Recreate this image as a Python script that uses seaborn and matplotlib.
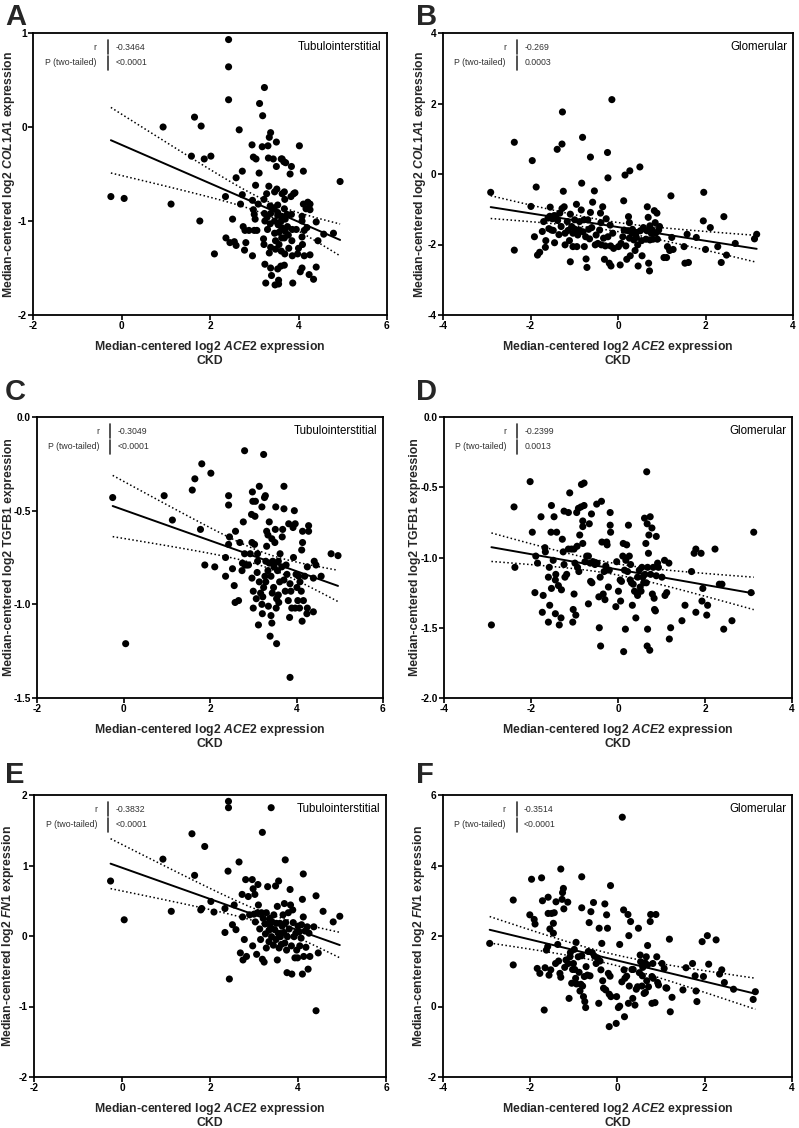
import numpy as np
import pandas as pd
import matplotlib
matplotlib.use("Agg")
import matplotlib.pyplot as plt
import seaborn as sns

# ---- data: (ACE2, target) pairs per panel ----
A_points = [(-0.24, -0.74), (0.06, -0.76), (0.94, 0.0), (1.12, -0.82), (1.65, 0.105), (1.80, 0.01),
            (1.58, -0.31), (1.87, -0.34), (2.02, -0.31), (1.77, -1.0), (2.10, -1.35), (2.42, 0.93),
            (2.42, 0.64), (2.42, 0.29), (2.35, -0.74), (2.36, -1.18), (2.45, -1.23), (2.51, -0.98),
            (2.55, -1.22), (2.59, -1.26), (2.59, -0.54), (2.66, -0.03), (2.73, -0.47), (2.69, -0.82),
            (2.73, -0.72), (2.75, -1.06), (2.79, -1.10), (2.81, -1.23), (2.78, -1.31), (2.88, -1.10),
            (2.95, -0.19), (2.96, -0.78), (2.96, -1.37), (3.00, -1.10), (2.98, -0.32), (3.04, -0.34),
            (3.03, -0.62), (2.98, -0.88), (3.00, -0.93), (3.02, -0.98), (3.06, -1.10), (3.09, -0.82),
            (3.12, 0.25), (3.11, -0.49), (3.18, -0.21), (3.19, 0.12), (3.23, 0.42), (3.22, -0.77),
            (3.23, -0.92), (3.24, -1.0), (3.21, -1.19), (3.22, -1.25), (3.24, -1.46), (3.26, -1.66),
            (3.28, -0.71), (3.29, -0.96), (3.30, -1.09), (3.32, -0.33), (3.31, -0.20), (3.34, -0.11),
            (3.37, -0.06), (3.33, -0.63), (3.36, -0.84), (3.37, -0.92), (3.36, -1.03), (3.37, -1.28),
            (3.34, -1.34), (3.37, -1.50), (3.39, -1.58), (3.43, -0.34), (3.46, -0.69), (3.45, -0.86),
            (3.46, -1.00), (3.46, -1.13), (3.48, -1.21), (3.48, -1.30), (3.47, -1.68), (3.50, -0.42),
            (3.50, -0.16), (3.51, -0.66), (3.53, -0.83), (3.53, -0.91), (3.53, -0.94), (3.54, -1.04),
            (3.56, -1.12), (3.56, -1.25), (3.53, -1.51), (3.55, -1.63), (3.55, -1.67), (3.61, -0.34),
            (3.63, -0.34), (3.63, -0.71), (3.62, -0.95), (3.61, -1.00), (3.62, -1.07), (3.62, -1.18),
            (3.61, -1.32), (3.60, -1.48), (3.67, -0.37), (3.68, -0.69), (3.69, -0.77), (3.68, -0.87),
            (3.70, -0.98), (3.70, -1.11), (3.68, -1.18), (3.69, -1.35), (3.68, -1.47), (3.71, -0.38),
            (3.74, -0.93), (3.75, -1.06), (3.77, -1.15), (3.78, -1.29), (3.81, -0.50), (3.83, -0.74),
            (3.84, -0.93), (3.86, -1.09), (3.84, -0.42), (3.85, -1.21), (3.86, -1.37), (3.87, -1.66),
            (3.89, -0.71), (3.92, -0.70), (3.95, -1.09), (3.98, -1.35), (4.00, -1.29), (4.02, -0.20),
            (4.04, -1.54), (4.08, -0.95), (4.08, -1.17), (4.08, -1.00), (4.08, -1.50), (4.09, -1.25),
            (4.11, -0.47), (4.11, -0.82), (4.13, -1.10), (4.13, -1.37), (4.17, -0.87), (4.19, -1.07),
            (4.21, -0.80), (4.25, -0.82), (4.26, -0.88), (4.26, -1.36), (4.24, -1.57), (4.26, -0.82),
            (4.34, -1.62), (4.40, -1.01), (4.40, -1.49), (4.44, -1.21), (4.57, -1.14), (4.79, -1.13),
            (4.94, -0.58)]

B_points = [(-2.91, -0.52), (-2.37, 0.90), (-2.37, -2.16), (-1.96, 0.38), (-1.99, -0.92), (-1.91, -1.78),
            (-1.87, -0.37), (-1.84, -2.30), (-1.79, -2.22), (-1.73, -1.63), (-1.70, -1.35), (-1.66, -2.08),
            (-1.65, -1.89), (-1.60, -1.25), (-1.58, -1.55), (-1.56, -1.20), (-1.55, -0.94), (-1.52, -1.59),
            (-1.50, -1.27), (-1.48, -1.60), (-1.46, -1.18), (-1.45, -1.95), (-1.42, -1.19), (-1.39, 0.70),
            (-1.38, -1.32), (-1.35, -1.72), (-1.33, -1.11), (-1.30, -1.49), (-1.28, 0.85), (-1.27, 1.76),
            (-1.28, -0.98), (-1.25, -0.49), (-1.23, -0.93), (-1.21, -1.68), (-1.21, -2.01), (-1.16, -1.35),
            (-1.14, -1.60), (-1.11, -1.89), (-1.09, -2.49), (-1.09, -1.14), (-1.06, -1.49), (-1.03, -2.06),
            (-1.03, -1.68), (-0.99, -1.30), (-0.98, -1.57), (-0.95, -0.86), (-0.94, -2.06), (-0.92, -1.73),
            (-0.88, -1.35), (-0.88, -1.59), (-0.84, -1.02), (-0.83, -0.26), (-0.81, 1.04), (-0.80, -1.64),
            (-0.78, -1.30), (-0.77, -2.06), (-0.74, -1.78), (-0.73, -2.41), (-0.71, -2.65), (-0.69, -1.30),
            (-0.67, -1.57), (-0.65, -1.84), (-0.63, 0.48), (-0.63, -1.09), (-0.60, -1.52), (-0.58, -0.80),
            (-0.54, -0.48), (-0.52, -2.01), (-0.50, -1.73), (-0.46, -1.97), (-0.42, -1.59), (-0.40, -1.11),
            (-0.39, -1.38), (-0.38, -2.01), (-0.35, -0.93), (-0.33, -1.82), (-0.31, -2.42), (-0.29, -2.04),
            (-0.27, -1.27), (-0.24, 0.61), (-0.23, -0.11), (-0.23, -1.78), (-0.20, -2.53), (-0.18, -1.45),
            (-0.17, -2.04), (-0.16, -2.61), (-0.14, 2.11), (-0.12, -1.68), (-0.10, -2.11), (0.01, -2.06),
            (0.05, -2.58), (0.07, -1.97), (0.11, -1.78), (0.13, -0.76), (0.14, -1.59), (0.16, -0.03),
            (0.18, -2.04), (0.20, -2.42), (0.23, -1.61), (0.24, -1.21), (0.26, -1.38), (0.26, -1.82),
            (0.27, 0.09), (0.28, -2.32), (0.32, -1.68), (0.33, -1.57), (0.36, -1.87), (0.39, -2.17),
            (0.41, -1.68), (0.42, -1.80), (0.45, -2.01), (0.46, -2.61), (0.50, 0.20), (0.51, -1.61),
            (0.54, -1.89), (0.55, -2.32), (0.58, -1.52), (0.64, -1.85), (0.66, -1.61), (0.67, -0.93),
            (0.69, -1.23), (0.70, -2.53), (0.72, -2.75), (0.73, -1.47), (0.73, -1.87), (0.76, -1.68),
            (0.78, -1.59), (0.80, -1.85), (0.83, -1.04), (0.85, -1.38), (0.86, -1.68), (0.89, -1.11),
            (0.90, -1.85), (0.93, -1.59), (0.95, -1.49), (1.05, -2.37), (1.11, -2.37), (1.13, -2.06),
            (1.18, -2.17), (1.21, -0.62), (1.23, -1.80), (1.26, -2.14), (1.51, -2.06), (1.58, -1.71),
            (1.53, -2.53), (1.61, -2.51), (1.79, -1.80), (1.95, -1.33), (1.96, -0.52), (2.00, -2.14),
            (2.11, -1.52), (2.28, -2.06), (2.36, -2.51), (2.42, -1.21), (2.48, -2.30), (2.68, -1.97),
            (3.12, -1.84), (3.17, -1.71)]

C_points = [(-0.25, -0.43), (0.05, -1.21), (0.94, -0.42), (1.13, -0.55), (1.59, -0.39), (1.65, -0.33),
            (1.81, -0.25), (2.02, -0.30), (1.78, -0.60), (1.88, -0.79), (2.11, -0.80), (2.36, -0.85),
            (2.36, -0.75), (2.43, -0.42), (2.43, -0.47), (2.45, -0.64), (2.43, -0.68), (2.52, -0.81),
            (2.56, -0.90), (2.59, -0.61), (2.58, -0.99), (2.66, -0.98), (2.69, -0.67), (2.75, -0.78),
            (2.74, -0.82), (2.77, -0.56), (2.80, -0.18), (2.80, -0.73), (2.81, -0.79), (2.85, -0.79),
            (2.89, -0.79), (2.93, -0.73), (2.96, -0.52), (2.97, -0.67), (2.97, -0.86), (2.98, -0.40),
            (2.99, -0.45), (3.00, -0.93), (3.00, -1.02), (3.03, -0.68), (3.04, -0.53), (3.05, -0.45),
            (3.07, -0.97), (3.09, -0.83), (3.10, -0.73), (3.10, -0.77), (3.12, -1.11), (3.14, -0.37),
            (3.14, -0.88), (3.17, -0.94), (3.20, -0.48), (3.20, -1.00), (3.21, -1.05), (3.22, -0.96),
            (3.24, -0.91), (3.24, -0.20), (3.26, -0.43), (3.28, -0.42), (3.27, -0.85), (3.29, -0.77),
            (3.29, -0.88), (3.31, -0.61), (3.31, -0.69), (3.34, -0.63), (3.34, -0.82), (3.35, -1.01),
            (3.37, -0.78), (3.37, -0.56), (3.39, -1.17), (3.41, -0.85), (3.41, -1.06), (3.43, -1.10),
            (3.43, -0.65), (3.44, -0.94), (3.45, -0.77), (3.47, -0.91), (3.48, -0.80), (3.50, -0.67),
            (3.51, -0.60), (3.52, -0.48), (3.53, -1.02), (3.54, -1.21), (3.54, -0.97), (3.56, -0.82),
            (3.58, -0.77), (3.58, -0.95), (3.59, -0.99), (3.61, -0.88), (3.62, -0.73), (3.66, -0.80),
            (3.67, -0.64), (3.68, -0.60), (3.71, -0.37), (3.71, -0.49), (3.71, -0.87), (3.74, -0.93),
            (3.76, -0.79), (3.78, -0.84), (3.81, -0.98), (3.82, -0.57), (3.84, -1.07), (3.85, -1.39),
            (3.85, -0.89), (3.87, -0.93), (3.89, -1.02), (3.92, -0.59), (3.93, -0.75), (3.95, -0.50),
            (3.97, -0.57), (3.97, -1.02), (3.99, -0.84), (4.01, -0.91), (4.03, -0.98), (4.05, -0.85),
            (4.07, -1.02), (4.08, -0.88), (4.11, -0.93), (4.12, -0.71), (4.13, -1.09), (4.14, -0.67),
            (4.14, -0.61), (4.16, -0.98), (4.19, -0.85), (4.24, -1.05), (4.25, -0.80), (4.25, -1.02),
            (4.28, -0.61), (4.28, -0.58), (4.39, -1.04), (4.41, -0.77), (4.45, -0.79), (4.39, -0.86),
            (4.57, -0.85), (4.80, -0.73), (4.96, -0.74)]

D_points = [(-2.91, -1.48), (-2.39, -0.64), (-2.37, -1.07), (-2.02, -0.46), (-1.97, -0.82), (-1.91, -1.25),
            (-1.89, -0.99), (-1.85, -1.04), (-1.77, -0.71), (-1.72, -1.27), (-1.74, -1.39), (-1.68, -0.93),
            (-1.67, -0.96), (-1.60, -1.14), (-1.60, -1.46), (-1.58, -1.07), (-1.57, -1.34), (-1.54, -0.82),
            (-1.53, -0.63), (-1.53, -1.22), (-1.49, -1.02), (-1.47, -0.71), (-1.44, -1.16), (-1.44, -1.40),
            (-1.41, -0.82), (-1.43, -1.12), (-1.37, -1.20), (-1.35, -1.48), (-1.31, -1.43), (-1.30, -1.23),
            (-1.28, -0.87), (-1.26, -0.96), (-1.24, -1.05), (-1.24, -0.67), (-1.22, -1.14), (-1.18, -1.12),
            (-1.14, -0.94), (-1.14, -0.68), (-1.11, -0.54), (-1.07, -0.94), (-1.04, -1.46), (-1.03, -1.37),
            (-1.01, -1.26), (-1.01, -0.94), (-0.99, -1.04), (-0.97, -1.41), (-0.95, -0.68), (-0.94, -0.92),
            (-0.93, -1.07), (-0.91, -0.65), (-0.90, -1.10), (-0.88, -0.84), (-0.85, -0.64), (-0.84, -0.48),
            (-0.81, -0.74), (-0.81, -0.90), (-0.81, -0.78), (-0.78, -0.47), (-0.78, -0.63), (-0.76, -1.03),
            (-0.72, -0.99), (-0.68, -0.99), (-0.68, -1.33), (-0.66, -0.76), (-0.64, -1.04), (-0.63, -1.17),
            (-0.61, -0.69), (-0.60, -1.18), (-0.57, -1.03), (-0.53, -1.05), (-0.49, -0.62), (-0.48, -1.04),
            (-0.44, -1.28), (-0.43, -1.50), (-0.41, -1.14), (-0.40, -1.63), (-0.38, -0.60), (-0.37, -0.89),
            (-0.34, -1.26), (-0.32, -1.10), (-0.30, -1.30), (-0.28, -1.06), (-0.26, -0.89), (-0.25, -0.91),
            (-0.22, -1.21), (-0.20, -1.09), (-0.18, -0.68), (-0.18, -0.77), (-0.17, -0.82), (-0.05, -1.35),
            (-0.03, -1.03), (0.01, -1.24), (0.05, -1.16), (0.06, -1.31), (0.08, -1.17), (0.11, -0.99),
            (0.12, -0.90), (0.13, -1.67), (0.15, -1.09), (0.17, -1.51), (0.18, -1.02), (0.20, -0.91),
            (0.22, -1.10), (0.24, -0.77), (0.26, -0.99), (0.28, -1.16), (0.29, -1.05), (0.31, -1.18),
            (0.33, -1.34), (0.35, -1.19), (0.38, -1.24), (0.41, -1.43), (0.43, -1.25), (0.45, -1.14),
            (0.45, -1.27), (0.49, -1.09), (0.51, -1.21), (0.53, -1.24), (0.55, -1.07), (0.57, -1.14),
            (0.59, -1.18), (0.61, -0.72), (0.62, -1.12), (0.64, -0.90), (0.65, -1.18), (0.66, -0.39),
            (0.67, -0.76), (0.67, -1.63), (0.68, -1.07), (0.68, -1.51), (0.70, -0.97), (0.71, -0.84),
            (0.73, -1.66), (0.74, -0.71), (0.75, -1.12), (0.78, -0.79), (0.79, -1.26), (0.81, -1.07),
            (0.83, -1.29), (0.84, -1.37), (0.86, -1.38), (0.88, -0.85), (0.88, -1.13), (0.91, -1.04),
            (0.93, -1.07), (1.01, -1.14), (1.08, -1.27), (1.07, -1.02), (1.12, -1.25), (1.17, -1.04),
            (1.18, -1.58), (1.21, -1.50), (1.47, -1.45), (1.54, -1.34), (1.69, -1.10), (1.75, -0.97),
            (1.79, -0.94), (1.79, -1.39), (1.91, -0.97), (1.93, -1.31), (1.95, -1.22), (2.04, -1.41),
            (2.06, -1.34), (2.23, -0.94), (2.33, -1.19), (2.39, -1.19), (2.43, -1.51), (2.62, -1.45),
            (3.06, -1.25), (3.12, -0.82)]

E_points = [(-0.26, 0.78), (0.05, 0.23), (0.93, 1.09), (1.12, 0.35), (1.59, 1.45), (1.65, 0.86),
            (1.79, 0.37), (1.81, 0.39), (1.88, 1.27), (2.02, 0.49), (2.09, 0.34), (2.34, 0.39),
            (2.34, 0.05), (2.42, 1.91), (2.42, 1.82), (2.41, 0.92), (2.44, -0.61), (2.51, 0.16),
            (2.55, 0.44), (2.59, 0.09), (2.66, 1.05), (2.69, -0.24), (2.73, 0.59), (2.74, 0.27),
            (2.75, -0.34), (2.78, -0.05), (2.81, 0.80), (2.83, -0.29), (2.87, 0.56), (2.90, 0.30),
            (2.96, 0.80), (2.97, -0.14), (2.98, 0.67), (3.00, 0.31), (3.02, 0.59), (3.03, 0.20),
            (3.06, -0.26), (3.08, 0.33), (3.09, 0.73), (3.10, 0.44), (3.13, 0.10), (3.15, -0.05),
            (3.17, 0.33), (3.19, 1.47), (3.19, -0.33), (3.21, 0.25), (3.23, -0.37), (3.25, 0.17),
            (3.26, 0.03), (3.28, 0.33), (3.28, -0.17), (3.31, 0.70), (3.32, 0.18), (3.34, 0.08),
            (3.34, -0.08), (3.36, 0.25), (3.38, 0.12), (3.39, 1.82), (3.40, -0.01), (3.41, 0.20),
            (3.44, -0.13), (3.45, 0.30), (3.47, 0.09), (3.49, 0.71), (3.50, -0.05), (3.51, 0.18),
            (3.53, -0.34), (3.53, 0.42), (3.55, 0.04), (3.56, 0.78), (3.57, -0.17), (3.59, 0.18),
            (3.60, -0.01), (3.62, -0.12), (3.64, 0.14), (3.66, 0.30), (3.68, 0.05), (3.69, 0.46),
            (3.70, -0.10), (3.71, 1.08), (3.72, 0.19), (3.74, -0.20), (3.75, -0.52), (3.76, -0.01),
            (3.78, 0.33), (3.80, 0.10), (3.82, 0.66), (3.83, 0.44), (3.85, -0.14), (3.86, -0.54),
            (3.88, 0.37), (3.89, 0.19), (3.91, -0.01), (3.93, -0.31), (3.95, 0.04), (3.97, -0.20),
            (3.99, -0.31), (4.00, 0.14), (4.03, 0.06), (4.04, -0.14), (4.07, -0.03), (4.08, 0.16),
            (4.10, -0.54), (4.10, 0.52), (4.12, 0.88), (4.12, 0.27), (4.13, -0.29), (4.16, 0.07),
            (4.18, -0.16), (4.21, 0.13), (4.23, -0.47), (4.25, 0.04), (4.27, -0.29), (4.36, 0.13),
            (4.41, 0.57), (4.41, -1.06), (4.46, -0.24), (4.57, 0.35), (4.80, 0.20), (4.95, 0.28)]

F_points = [(-2.93, 1.79), (-2.39, 3.02), (-2.39, 1.18), (-2.01, 2.60), (-1.97, 3.61), (-1.91, 2.47),
            (-1.89, 2.34), (-1.84, 1.08), (-1.78, 0.94), (-1.74, 3.65), (-1.72, 3.00), (-1.68, -0.10),
            (-1.66, 1.10), (-1.63, 1.60), (-1.60, 1.70), (-1.59, 3.10), (-1.59, 2.64), (-1.57, 0.89),
            (-1.55, 2.20), (-1.53, 1.04), (-1.51, 2.64), (-1.47, 2.36), (-1.47, 2.08), (-1.45, 2.66),
            (-1.42, 1.22), (-1.41, 2.97), (-1.37, 1.76), (-1.35, 1.29), (-1.32, 0.94), (-1.30, 0.83),
            (-1.30, 3.90), (-1.27, 3.04), (-1.26, 3.23), (-1.24, 3.35), (-1.23, 2.77), (-1.21, 1.11),
            (-1.18, 1.32), (-1.14, 2.96), (-1.13, 1.22), (-1.11, 0.23), (-1.09, 1.41), (-1.08, 1.53),
            (-1.05, 0.66), (-1.03, 1.05), (-1.01, 1.22), (-0.99, 1.62), (-0.98, 1.05), (-0.96, 0.80),
            (-0.95, 1.82), (-0.94, 0.64), (-0.90, 1.41), (-0.88, 0.97), (-0.86, 0.44), (-0.84, 0.63),
            (-0.82, 3.68), (-0.82, 2.80), (-0.82, 1.44), (-0.80, 0.58), (-0.78, 0.28), (-0.76, 0.85),
            (-0.75, 0.14), (-0.73, -0.03), (-0.72, 1.13), (-0.69, 0.89), (-0.67, 1.56), (-0.65, 2.38),
            (-0.63, 0.87), (-0.61, 2.69), (-0.58, 1.53), (-0.55, 2.95), (-0.53, 1.43), (-0.49, 1.22),
            (-0.46, 1.38), (-0.43, 0.09), (-0.42, 2.22), (-0.40, 1.29), (-0.38, 1.04), (-0.36, 1.79),
            (-0.34, 0.73), (-0.32, 0.52), (-0.29, 2.91), (-0.27, 0.47), (-0.25, 2.60), (-0.23, 2.22),
            (-0.21, 0.94), (-0.19, 0.35), (-0.19, -0.57), (-0.17, 0.86), (-0.16, 3.43), (-0.15, 0.28),
            (-0.03, -0.48), (-0.02, 0.28), (0.02, -0.03), (0.05, 0.01), (0.05, 1.76), (0.10, 0.70),
            (0.11, 5.37), (0.14, 2.74), (0.15, 1.04), (0.16, -0.29), (0.17, 0.80), (0.21, 0.86),
            (0.24, 2.61), (0.25, 0.09), (0.26, 2.01), (0.27, 0.58), (0.30, 2.41), (0.33, 1.05),
            (0.35, 0.23), (0.36, 1.05), (0.40, 0.04), (0.43, 0.49), (0.46, 0.56), (0.48, 2.22),
            (0.50, 0.96), (0.52, 1.46), (0.53, 1.27), (0.56, 0.58), (0.57, 0.87), (0.58, 1.11),
            (0.61, 0.37), (0.63, 1.24), (0.64, 0.40), (0.66, 1.41), (0.67, 0.73), (0.69, 1.18),
            (0.69, 1.73), (0.71, 0.56), (0.75, 2.41), (0.76, 2.61), (0.79, 0.85), (0.79, 0.09),
            (0.81, 1.22), (0.82, 0.80), (0.86, 0.11), (0.88, 2.61), (0.90, 1.41), (0.92, 0.68),
            (0.94, 0.61), (1.02, 1.22), (1.07, 1.08), (1.11, 0.53), (1.13, 0.52), (1.19, 1.91),
            (1.21, -0.15), (1.25, 0.26), (1.50, 0.47), (1.57, 1.10), (1.72, 1.22), (1.78, 0.87),
            (1.80, 0.44), (1.82, 0.14), (1.94, 1.84), (1.97, 0.85), (2.06, 2.01), (2.09, 1.20),
            (2.26, 1.89), (2.34, 0.92), (2.39, 1.04), (2.45, 0.68), (2.66, 0.49), (3.11, 0.20),
            (3.16, 0.42)]

letters = ["A", "B", "C", "D", "E", "F"]
regions = ["Tubulointerstitial", "Glomerular"] * 3
r_values = ["-0.3464", "-0.269", "-0.3049", "-0.2399", "-0.3832", "-0.3514"]
p_values = ["<0.0001", "0.0003", "<0.0001", "0.0013", "<0.0001", "<0.0001"]
genes = [r"$\mathit{COL1A1}$", r"$\mathit{COL1A1}$", "TGFB1", "TGFB1", r"$\mathit{FN1}$", r"$\mathit{FN1}$"]
x_ticks_tub = [-2, 0, 2, 4, 6]
x_ticks_glom = [-4, -2, 0, 2, 4]
y_ticks = [[-2, -1, 0, 1], [-4, -2, 0, 2, 4], [-1.5, -1.0, -0.5, 0.0],
           [-2.0, -1.5, -1.0, -0.5, 0.0], [-2, -1, 0, 1, 2], [-2, 0, 2, 4, 6]]
y_tick_labels = [["-2", "-1", "0", "1"], ["-4", "-2", "0", "2", "4"], ["-1.5", "-1.0", "-0.5", "0.0"],
                 ["-2.0", "-1.5", "-1.0", "-0.5", "0.0"], ["-2", "-1", "0", "1", "2"],
                 ["-2", "0", "2", "4", "6"]]

# ---- style ----
sns.set_style("ticks")
plt.rcParams['font.family'] = ['Liberation Sans', 'DejaVu Sans']
plt.rcParams['axes.unicode_minus'] = False
plt.rcParams['mathtext.fontset'] = 'custom'
plt.rcParams['mathtext.it'] = 'Liberation Sans:italic:bold'
plt.rcParams['mathtext.rm'] = 'Liberation Sans:bold'
plt.rcParams['mathtext.bf'] = 'Liberation Sans:bold'

W, H = 799, 1128
fig = plt.figure(figsize=(W / 100, H / 100), dpi=100)

# axes boxes in pixels: left, top, right, bottom
boxes = [(33, 33, 387, 315), (443, 33, 793, 315),
         (37, 417, 383, 698), (444, 417, 792, 698),
         (34, 795, 386, 1077), (443, 795, 792, 1077)]
letter_pos = [(5, 3), (416, 3), (5, 378), (416, 378), (5, 761), (416, 761)]
ylabel_right = [17, 428, 15, 421, 16, 427]   # right edge of rotated y label, px

all_points = [A_points, B_points, C_points, D_points, E_points, F_points]


def ci_lines(x, y, xs, t=1.976):
    n = len(x)
    b1, b0 = np.polyfit(x, y, 1)
    resid = y - (b0 + b1 * x)
    s = np.sqrt(np.sum(resid ** 2) / (n - 2))
    sxx = np.sum((x - x.mean()) ** 2)
    se = s * np.sqrt(1.0 / n + (xs - x.mean()) ** 2 / sxx)
    fit = b0 + b1 * xs
    return fit - t * se, fit + t * se


for i, pts in enumerate(all_points):
    l, t, r, b = boxes[i]
    ax = fig.add_axes([l / W, 1 - b / H, (r - l) / W, (b - t) / H])
    df = pd.DataFrame(pts, columns=["ace2", "target"])

    sns.regplot(data=df, x="ace2", y="target", ax=ax, ci=None, truncate=True,
                scatter_kws=dict(s=26, color="black", edgecolor="none", alpha=1),
                line_kws=dict(color="black", lw=1.4))

    xs = np.linspace(df.ace2.min(), df.ace2.max(), 100)
    lo, hi = ci_lines(df.ace2.values, df.target.values, xs)
    ax.plot(xs, lo, color="black", lw=1.1, ls=(0, (1, 1.6)))
    ax.plot(xs, hi, color="black", lw=1.1, ls=(0, (1, 1.6)))

    xt = x_ticks_tub if i % 2 == 0 else x_ticks_glom
    ax.set_xlim(xt[0], xt[-1])
    ax.set_xticks(xt)
    ax.set_xticklabels([str(v) for v in xt])
    ax.set_ylim(y_ticks[i][0], y_ticks[i][-1])
    ax.set_yticks(y_ticks[i])
    ax.set_yticklabels(y_tick_labels[i])

    for sp in ax.spines.values():
        sp.set_visible(True)
        sp.set_linewidth(1.3)
        sp.set_color("black")
    ax.tick_params(direction="out", length=3.5, width=1.2, pad=1.0, labelsize=7.3, colors="black")
    for lab in ax.get_xticklabels() + ax.get_yticklabels():
        lab.set_fontweight("bold")

    ax.set_xlabel("Median-centered log2 $\\mathit{ACE2}$ expression\nCKD",
                  fontsize=8.8, fontweight="bold", linespacing=1.0)
    ax.xaxis.set_label_coords(0.5, -0.085)
    ax.set_ylabel("Median-centered log2 " + genes[i] + " expression",
                  fontsize=8.8, fontweight="bold")
    ax.yaxis.set_label_coords((ylabel_right[i] - l) / (r - l), 0.5)

    # stats box
    txt = dict(transform=ax.transAxes, fontsize=6.3, color="#333333", va="center")
    ax.text(0.18, 0.95, "r", ha="right", **txt)
    ax.text(0.18, 0.894, "P (two-tailed)", ha="right", **txt)
    ax.text(0.232, 0.95, r_values[i], ha="left", **txt)
    ax.text(0.232, 0.894, p_values[i], ha="left", **txt)
    for yy in (0.95, 0.894):
        ax.plot([0.211, 0.211], [yy - 0.024, yy + 0.024], transform=ax.transAxes,
                color="#333333", lw=1.2, clip_on=False)
    ax.text(0.985, 0.95, regions[i], transform=ax.transAxes, fontsize=8.3,
            ha="right", va="center", color="black")

    lx, ly = letter_pos[i]
    fig.text(lx / W, 1 - ly / H, letters[i], fontsize=21, fontweight="bold",
             ha="left", va="top")

fig.savefig("out.png", dpi=100)
